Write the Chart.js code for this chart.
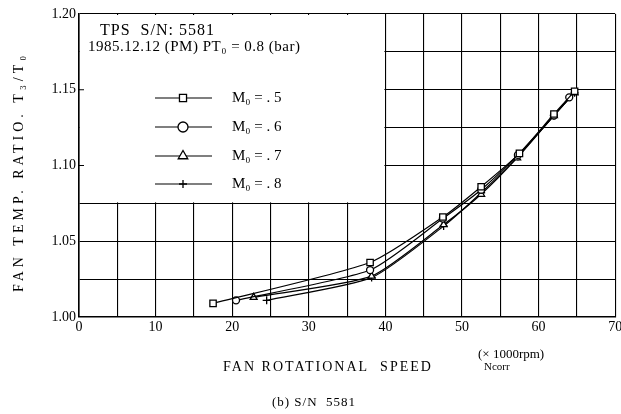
<!DOCTYPE html>
<html>
<head>
<meta charset="utf-8">
<script src="https://cdn.jsdelivr.net/npm/chart.js@4/dist/chart.umd.min.js"></script>
<style>
  html, body { margin: 0; padding: 0; background: #fff; }
</style>
</head>
<body>
<canvas id="myChart" width="621" height="414"></canvas>
<script>
// values
const speedMo5 = [17.5, 38, 47.5, 52.5, 57.5, 62, 64.7];
const ratioMo5 = [1.009, 1.036, 1.066, 1.086, 1.108, 1.134, 1.149];
const speedMo6 = [20.5, 38, 47.5, 52.5, 57.3, 62, 64];
const ratioMo6 = [1.011, 1.031, 1.065, 1.084, 1.107, 1.133, 1.145];
const speedMo7 = [22.8, 38.2, 47.6, 52.5, 57.2, 62, 64.7];
const ratioMo7 = [1.013, 1.027, 1.061, 1.081, 1.105, 1.133, 1.148];
const speedMo8 = [24.5, 38.2, 47.6, 52.5, 57.3, 62, 64.7];
const ratioMo8 = [1.011, 1.026, 1.060, 1.082, 1.106, 1.133, 1.148];
const seriesLabels = ['M\u2080 = . 5', 'M\u2080 = . 6', 'M\u2080 = . 7', 'M\u2080 = . 8'];
const markerStyles = ['rect', 'circle', 'triangle', 'cross'];

const FONT = '"Liberation Serif", "DejaVu Serif", serif';

function pts(xs, ys) {
  return xs.map((x, i) => ({ x: x, y: ys[i] }));
}

function makeSet(i, xs, ys, radius) {
  return {
    label: seriesLabels[i],
    data: pts(xs, ys),
    borderColor: '#000',
    borderWidth: 1.2,
    pointStyle: markerStyles[i],
    pointRadius: radius,
    pointBackgroundColor: '#fff',
    pointBorderColor: '#000',
    pointBorderWidth: 1.3,
    tension: 0.2,
    fill: false
  };
}

// blank box in the upper-left corner where the legend sits
const legendBox = {
  id: 'legendBox',
  beforeDatasetsDraw(chart) {
    const ctx = chart.ctx;
    const xs = chart.scales.x, ys = chart.scales.y;
    const l = xs.getPixelForValue(0), r = xs.getPixelForValue(40);
    const t = ys.getPixelForValue(1.20), b = ys.getPixelForValue(1.075);
    ctx.save();
    ctx.fillStyle = '#fff';
    ctx.fillRect(l + 1, t + 1, r - l - 2, b - t - 2);
    // small inward ticks on the y axis
    ctx.strokeStyle = '#000';
    ctx.lineWidth = 1;
    [1.10, 1.15].forEach(v => {
      const y = ys.getPixelForValue(v);
      ctx.beginPath(); ctx.moveTo(l, y); ctx.lineTo(l + 5, y); ctx.stroke();
    });
    ctx.restore();
  },
  afterDraw(chart) {
    const ctx = chart.ctx;
    const helpers = Chart.helpers;
    ctx.save();
    ctx.fillStyle = '#000';
    ctx.strokeStyle = '#000';
    ctx.textBaseline = 'middle';
    ctx.font = '16px ' + FONT;
    ctx.letterSpacing = '1px';
    ctx.fillText('TPS  S/N: 5581', 100, 31);
    ctx.font = '15px ' + FONT;
    ctx.letterSpacing = '0.5px';
    ctx.fillText('1985.12.12 (PM) PT\u2080 = 0.8 (bar)', 88, 47);
    ctx.letterSpacing = '0px';

    const rows = [98, 127, 156, 184];
    const radii = [5, 5, 5.5, 4];
    rows.forEach((y, i) => {
      ctx.lineWidth = 1.2;
      ctx.beginPath(); ctx.moveTo(155, y); ctx.lineTo(212, y); ctx.stroke();
      ctx.fillStyle = '#fff';
      ctx.lineWidth = 1.3;
      helpers.drawPoint(ctx, { pointStyle: markerStyles[i], radius: radii[i], rotation: 0, borderWidth: 1.3 }, 183, y);
      ctx.fillStyle = '#000';
      ctx.font = '15px ' + FONT;
      ctx.fillText(seriesLabels[i], 232, y);
    });

    // axis titles and caption
    ctx.font = '14px ' + FONT;
    ctx.letterSpacing = '4px';
    ctx.textAlign = 'center';
    ctx.save();
    ctx.translate(19, 172);
    ctx.rotate(-Math.PI / 2);
    ctx.fillText('FAN TEMP. RATIO. T\u2083/T\u2080', 0, 0);
    ctx.restore();
    ctx.letterSpacing = '2px';
    ctx.fillText('FAN ROTATIONAL  SPEED', 328, 367);
    ctx.letterSpacing = '0px';
    ctx.font = '13px ' + FONT;
    ctx.textAlign = 'left';
    ctx.fillText('(\u00d7 1000rpm)', 478, 355);
    ctx.font = '11px ' + FONT;
    ctx.fillText('Ncorr', 484, 367);
    ctx.font = '13px ' + FONT;
    ctx.letterSpacing = '1px';
    ctx.textAlign = 'center';
    ctx.fillText('(b) S/N  5581', 314, 403);
    ctx.restore();
  }
};

const config = {
  type: 'line',
  data: {
    datasets: [
      makeSet(0, speedMo5, ratioMo5, 4.5),
      makeSet(1, speedMo6, ratioMo6, 3.5),
      makeSet(2, speedMo7, ratioMo7, 4),
      makeSet(3, speedMo8, ratioMo8, 4)
    ]
  },
  options: {
    responsive: false,
    animation: false,
    devicePixelRatio: 1,
    layout: { padding: { top: 14, right: 3, left: 0, bottom: 0 } },
    plugins: {
      legend: { display: false },
      title: { display: false },
      tooltip: { enabled: false }
    },
    scales: {
      x: {
        type: 'linear',
        min: 0,
        max: 70,
        ticks: {
          stepSize: 5,
          color: '#000',
          font: { family: FONT, size: 14 },
          padding: 2,
          maxRotation: 0,
          autoSkip: false,
          callback: v => (v % 10 === 0 ? String(v) : '')
        },
        grid: { color: '#000', lineWidth: 1.1, drawTicks: false },
        border: { color: '#000', width: 1.6 },
        afterFit: s => { s.height = 97; s.paddingRight = 0; s.paddingLeft = 0; }
      },
      y: {
        min: 1.0,
        max: 1.2,
        ticks: {
          stepSize: 0.025,
          color: '#000',
          font: { family: FONT, size: 14 },
          padding: 3,
          autoSkip: false,
          callback: v => (Math.round(v * 1000) % 50 === 0 ? v.toFixed(2) : '')
        },
        grid: { color: '#000', lineWidth: 1.1, drawTicks: false },
        border: { color: '#000', width: 1.6 },
        afterFit: s => { s.width = 79; s.paddingTop = 0; s.paddingBottom = 0; }
      }
    }
  },
  plugins: [legendBox]
};

var myChart = new Chart(document.getElementById('myChart'), config);
</script>
</body>
</html>
